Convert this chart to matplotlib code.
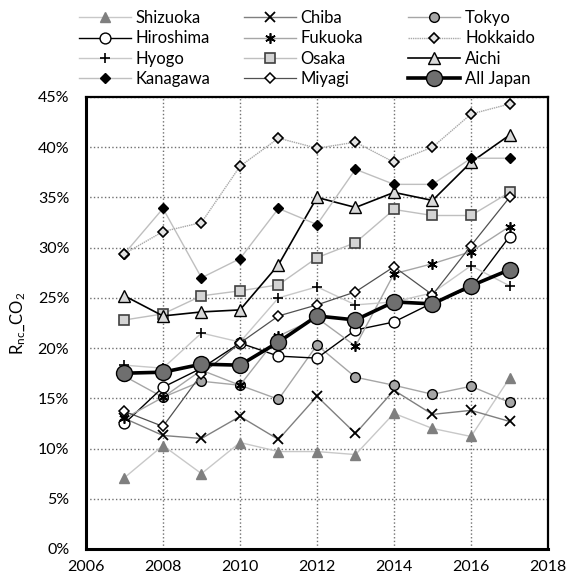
import matplotlib
matplotlib.use("Agg")
import matplotlib.pyplot as plt
from matplotlib.legend import Legend
from matplotlib.ticker import MultipleLocator, FuncFormatter

plt.rcParams['font.family'] = ['Lato', 'DejaVu Sans']
plt.rcParams['mathtext.fontset'] = 'custom'
plt.rcParams['mathtext.rm'] = 'Lato'
plt.rcParams['mathtext.it'] = 'Lato:italic'

years = [2007, 2008, 2009, 2010, 2011, 2012, 2013, 2014, 2015, 2016, 2017]

shizuoka = [7.1, 10.3, 7.5, 10.6, 9.7, 9.7, 9.4, 13.5, 12.0, 11.2, 17.0]
chiba = [13.0, 11.3, 11.0, 13.2, 10.9, 15.2, 11.5, 15.8, 13.4, 13.8, 12.7]
tokyo = [17.2, 15.1, 16.7, 16.3, 14.9, 20.3, 17.1, 16.3, 15.4, 16.2, 14.6]
hiroshima = [12.5, 16.1, 18.0, 20.5, 19.2, 19.0, 21.8, 22.6, 24.5, 26.0, 31.1]
fukuoka = [13.0, 15.1, 17.8, 16.3, 21.2, 23.0, 20.2, 27.4, 28.4, 29.6, 32.1]
hokkaido = [29.4, 31.6, 32.5, 38.1, 40.9, 39.9, 40.5, 38.5, 40.0, 43.3, 44.3]
hyogo = [18.3, 18.0, 21.5, 20.6, 25.0, 26.1, 24.3, 24.6, 25.5, 28.2, 26.2]
osaka = [22.8, 23.4, 25.2, 25.7, 26.3, 29.0, 30.5, 33.8, 33.2, 33.2, 35.5]
aichi = [25.2, 23.2, 23.6, 23.8, 28.3, 35.0, 34.0, 35.5, 34.7, 38.5, 41.2]
kanagawa = [29.4, 33.9, 27.0, 28.9, 33.9, 32.3, 37.8, 36.3, 36.3, 38.9, 38.9]
miyagi = [13.7, 12.2, 17.4, 20.5, 23.2, 24.3, 25.6, 28.1, 25.3, 30.2, 35.0]
all_japan = [17.5, 17.6, 18.4, 18.3, 20.6, 23.2, 22.8, 24.6, 24.4, 26.2, 27.8]

fig = plt.figure(figsize=(5.69, 5.81), dpi=100)
ax = fig.add_axes([0.1511, 0.0551, 0.812, 0.778])

# (name, values, style, zorder)
series = [
    ("Shizuoka", shizuoka, dict(color="#c8c8c8", lw=1.0, marker="^", ms=7.5,
                                mfc="#7f7f7f", mec="#7f7f7f"), 3),
    ("Chiba", chiba, dict(color="#7f7f7f", lw=1.0, marker="x", ms=7, mew=1.3,
                          mec="black"), 4),
    ("Tokyo", tokyo, dict(color="#a6a6a6", lw=1.0, marker="o", ms=7,
                          mfc="#a6a6a6", mec="black", mew=1.0), 5),
    ("Hiroshima", hiroshima, dict(color="black", lw=1.0, marker="o", ms=7.8,
                                  mfc="white", mec="black", mew=1.0), 6),
    ("Fukuoka", fukuoka, dict(color="#a6a6a6", lw=1.0, marker=(6, 2, 0), ms=7.5,
                              mew=1.2, mec="black"), 7),
    ("Hokkaido", hokkaido, dict(color="#a8a8a8", lw=1.0, ls=(0, (1, 0.6)),
                                marker="D", ms=5.3, mfc="#e4e4e4", mec="black",
                                mew=1.2), 13),
    ("Hyogo", hyogo, dict(color="#c8c8c8", lw=1.0, marker="+", ms=7.5, mew=1.2,
                          mec="black"), 8),
    ("Osaka", osaka, dict(color="#bfbfbf", lw=1.0, marker="s", ms=7.3,
                          mfc="#d4d4d4", mec="#404040", mew=1.2), 9),
    ("Aichi", aichi, dict(color="black", lw=1.2, marker="^", ms=8.5,
                          mfc="#d9d9d9", mec="black", mew=1.0), 10),
    ("Kanagawa", kanagawa, dict(color="#bfbfbf", lw=1.0, marker="D", ms=5.3,
                                mfc="black", mec="black"), 11),
    ("Miyagi", miyagi, dict(color="#505050", lw=0.9, marker="D", ms=5.3,
                            mfc="white", mec="black", mew=1.1), 12),
    ("All Japan", all_japan, dict(color="black", lw=2.6, marker="o", ms=11.5,
                                  mfc="#6f6f6f", mec="black", mew=1.0), 14),
]

handles = {}
for name, vals, style, z in series:
    (h,) = ax.plot(years, vals, label=name, zorder=z, clip_on=False, **style)
    handles[name] = h

ax.set_xlim(2006, 2018)
ax.set_ylim(0, 45)
ax.xaxis.set_major_locator(MultipleLocator(2))
ax.yaxis.set_major_locator(MultipleLocator(5))
ax.yaxis.set_major_formatter(FuncFormatter(lambda v, p: f"{v:.0f}%"))
ax.tick_params(length=0, labelsize=11.5)
ax.tick_params(axis="y", pad=12)
ax.tick_params(axis="x", pad=8)
ax.grid(True, ls=":", color="#707070", lw=1.0)
ax.set_axisbelow(True)
for side, lw in (("left", 2.2), ("bottom", 2.2), ("top", 1.6), ("right", 1.6)):
    ax.spines[side].set_linewidth(lw)
    ax.spines[side].set_color("black")
ax.set_ylabel(r"R$_{\mathrm{nc}}$_CO$_2$", fontsize=12, labelpad=7)

# legend: three columns, filled row by row
columns = [["Shizuoka", "Hiroshima", "Hyogo", "Kanagawa"],
           ["Chiba", "Fukuoka", "Osaka", "Miyagi"],
           ["Tokyo", "Hokkaido", "Aichi", "All Japan"]]
col_x = [-0.015, 0.342, 0.698]
for names, x in zip(columns, col_x):
    leg = Legend(ax, [handles[n] for n in names], names, frameon=False,
                 loc="center left", bbox_to_anchor=(x, 1.107), fontsize=12,
                 handlelength=3.1, handletextpad=0.3, labelspacing=0.26,
                 borderpad=0, borderaxespad=0)
    ax.add_artist(leg)

fig.savefig("out.png", dpi=100)
